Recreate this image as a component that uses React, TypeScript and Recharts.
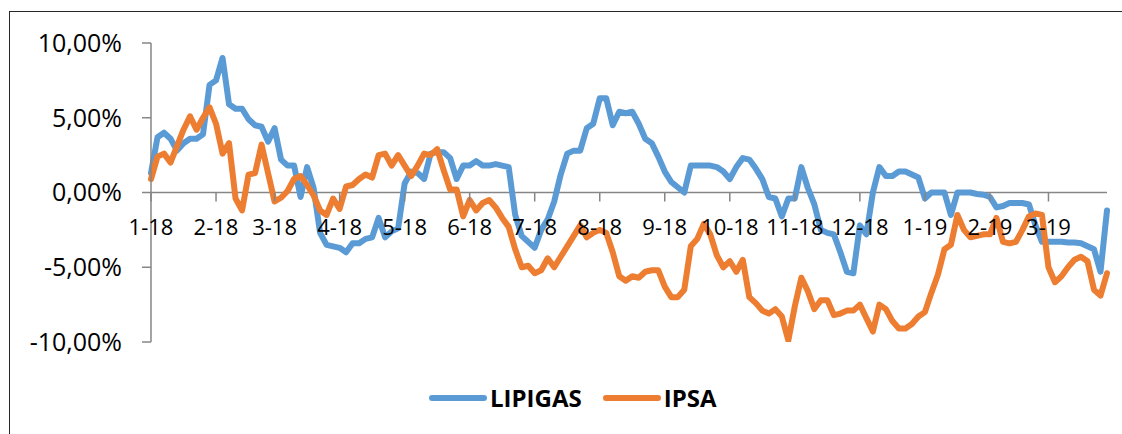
import { Legend, Line, LineChart, ReferenceDot, ReferenceLine, YAxis, XAxis } from "recharts";

// month labels of the date axis and how many samples fall in each month
const monthLabels = ["1-18", "2-18", "3-18", "4-18", "5-18", "6-18", "7-18", "8-18", "9-18", "10-18", "11-18", "12-18", "1-19", "2-19", "3-19"];
const samplesPerMonth = [10, 9, 10, 10, 10, 10, 10, 10, 10, 10, 10, 10, 10, 9, 10];

const seriesNames = ["LIPIGAS", "IPSA"];

// accumulated return, in percent
const lipigas = [
  1.3, 3.7, 4.0, 3.6, 2.8, 3.3, 3.6, 3.6, 3.9, 7.2,
  7.5, 9.0, 5.9, 5.6, 5.6, 4.9, 4.5, 4.4, 3.4, 4.3,
  2.2, 1.8, 1.8, -0.3, 1.7, 0.3, -2.7, -3.5, -3.6, -3.7,
  -4.0, -3.4, -3.4, -3.1, -3.0, -1.7, -3.0, -2.6, -2.4, 0.6,
  1.4, 1.3, 0.9, 2.6, 2.7, 2.7, 2.3, 0.9, 1.8, 1.8,
  2.1, 1.8, 1.8, 1.9, 1.8, 1.7, -1.5, -2.9, -3.3, -3.7,
  -2.5, -1.8, -0.6, 1.2, 2.6, 2.8, 2.8, 4.3, 4.6, 6.3,
  6.3, 4.5, 5.4, 5.3, 5.4, 4.6, 3.6, 3.3, 2.4, 1.4,
  0.7, 0.35, 0.0, 1.8, 1.8, 1.8, 1.8, 1.7, 1.4, 0.9,
  1.7, 2.3, 2.2, 1.6, 0.9, -0.3, -0.4, -1.6, -0.4, -0.4,
  1.7, 0.3, -0.8, -2.5, -2.7, -2.8, -4.0, -5.3, -5.4, -2.2,
  -2.8, 0.0, 1.7, 1.1, 1.1, 1.4, 1.4, 1.2, 1.0, -0.4,
  0.0, 0.0, 0.0, -1.5, 0.0, 0.0, 0.0, -0.1, -0.15, -0.3,
  -1.0, -0.9, -0.7, -0.7, -0.7, -0.8, -2.2, -3.3, -3.3, -3.3,
  -3.3, -3.35, -3.35, -3.4, -3.6, -3.8, -5.3, -1.2,
];

const ipsa = [
  0.9, 2.4, 2.6, 2.0, 3.1, 4.2, 5.1, 4.2, 5.0, 5.7,
  4.6, 2.6, 3.3, -0.4, -1.2, 1.2, 1.3, 3.2, 1.3, -0.6,
  -0.35, 0.1, 0.9, 1.1, 0.5, -0.2, -1.2, -1.5, -0.4, -1.1,
  0.4, 0.5, 0.9, 1.2, 1.0, 2.5, 2.6, 1.8, 2.5, 1.8,
  1.1, 1.8, 2.6, 2.5, 2.9, 1.5, 0.2, 0.2, -1.6, -0.5,
  -1.2, -0.7, -0.5, -1.0, -1.7, -2.3, -3.8, -5.0, -4.9, -5.4,
  -5.2, -4.4, -5.0, -4.3, -3.6, -2.9, -2.2, -3.0, -2.7, -2.5,
  -2.7, -4.0, -5.6, -5.9, -5.6, -5.7, -5.3, -5.2, -5.2, -6.3,
  -7.0, -7.0, -6.5, -3.6, -3.1, -2.1, -2.8, -4.2, -5.0, -4.6,
  -5.3, -4.5, -7.0, -7.4, -7.9, -8.1, -7.8, -8.3, -9.9, -7.6,
  -5.7, -6.6, -7.8, -7.2, -7.2, -8.2, -8.1, -7.9, -7.9, -7.5,
  -8.4, -9.3, -7.5, -7.8, -8.6, -9.1, -9.1, -8.8, -8.3, -8.0,
  -6.7, -5.5, -3.8, -3.5, -1.5, -2.5, -3.0, -2.9, -2.8, -2.8,
  -1.7, -3.3, -3.4, -3.3, -2.5, -1.6, -1.4, -1.5, -5.0, -6.0,
  -5.6, -5.0, -4.5, -4.3, -4.6, -6.5, -6.9, -5.4,
];

const yTicks = [-10, -5, 0, 5, 10];

const rows = lipigas.map((value, t) => ({ t, LIPIGAS: value, IPSA: ipsa[t] }));

const monthStarts: number[] = [];
samplesPerMonth.reduce((start, count) => {
  monthStarts.push(start);
  return start + count;
}, 0);

const FONT = "'Open Sans', 'DejaVu Sans', sans-serif";
const AXIS_GREY = "#868686";
const BLUE = "#5B9BD5";
const ORANGE = "#ED7D31";

const percent = (v: number) => `${v.toFixed(2).replace(".", ",")}%`;

function MonthTick({ cx, cy }: any) {
  return <line x1={cx} x2={cx} y1={cy} y2={cy + 9} stroke={AXIS_GREY} strokeWidth={1.5} />;
}

function MonthLabel({ cx, cy, label }: any) {
  return (
    <text x={cx} y={cy + 42} textAnchor="middle" fontFamily={FONT} fontSize={22} fill="#000">
      {label}
    </text>
  );
}

function renderLegend({ payload }: any) {
  const items = [...(payload ?? [])].sort(
    (a: any, b: any) => seriesNames.indexOf(a.value) - seriesNames.indexOf(b.value)
  );
  return (
    <div style={{ display: "flex", alignItems: "center", fontFamily: FONT, fontWeight: 700, fontSize: 24, lineHeight: "24px", color: "#000" }}>
      {items.map((entry: any, k: number) => (
        <div key={entry.value} style={{ display: "flex", alignItems: "center", marginRight: k === 0 ? 21 : 0 }}>
          <svg width={58} height={12}>
            <line x1={3} y1={6} x2={55} y2={6} stroke={entry.color} strokeWidth={6} strokeLinecap="round" />
          </svg>
          <span style={{ marginLeft: 3 }}>{entry.value}</span>
        </div>
      ))}
    </div>
  );
}

export default function App() {
  // fixed frame so the page never scrolls
  return (
    <div style={{ position: "fixed", left: 0, top: 0, width: 1122, height: 434, overflow: "hidden", background: "#fff" }}>
      <div
        style={{
          position: "absolute",
          left: 9,
          top: 11,
          width: 1113,
          height: 423,
          borderTop: "1px solid #262626",
          borderLeft: "1px solid #262626",
          boxSizing: "border-box",
        }}
      />
      <div style={{ position: "absolute", left: 8, top: 8 }}>
        <LineChart width={1114} height={426} data={rows} margin={{ top: 35, right: 15, bottom: 92, left: 0 }} style={{ fontFamily: FONT }}>
          <XAxis type="number" dataKey="t" domain={[0, lipigas.length - 1]} hide />
          <YAxis
            type="number"
            domain={[-10, 10]}
            ticks={yTicks}
            width={143}
            tickFormatter={percent}
            axisLine={{ stroke: AXIS_GREY, strokeWidth: 1.5 }}
            tickLine={{ stroke: AXIS_GREY, strokeWidth: 1.5 }}
            tickSize={9}
            tickMargin={20}
            tick={{ fill: "#000", fontSize: 25, fontFamily: FONT }}
            allowDataOverflow
          />
          <ReferenceLine y={0} stroke={AXIS_GREY} strokeWidth={1.5} />
          {monthStarts.map((t) => (
            <ReferenceDot key={`tick-${t}`} x={t} y={0} r={0} ifOverflow="visible" shape={(p: any) => <MonthTick {...p} />} />
          ))}
          <Line type="linear" dataKey="LIPIGAS" stroke={BLUE} strokeWidth={6} strokeLinejoin="round" strokeLinecap="round" dot={false} isAnimationActive={false} />
          <Line type="linear" dataKey="IPSA" stroke={ORANGE} strokeWidth={6} strokeLinejoin="round" strokeLinecap="round" dot={false} isAnimationActive={false} />
          {monthStarts.map((t, k) => (
            <ReferenceDot
              key={`label-${t}`}
              x={t}
              y={0}
              r={0}
              ifOverflow="visible"
              shape={(p: any) => <MonthLabel {...p} label={monthLabels[k]} />}
            />
          ))}
          <Legend
            layout="horizontal"
            align="center"
            verticalAlign="middle"
            wrapperStyle={{ top: 378, left: 421, width: "auto" }}
            content={renderLegend}
          />
        </LineChart>
      </div>
    </div>
  );
}
